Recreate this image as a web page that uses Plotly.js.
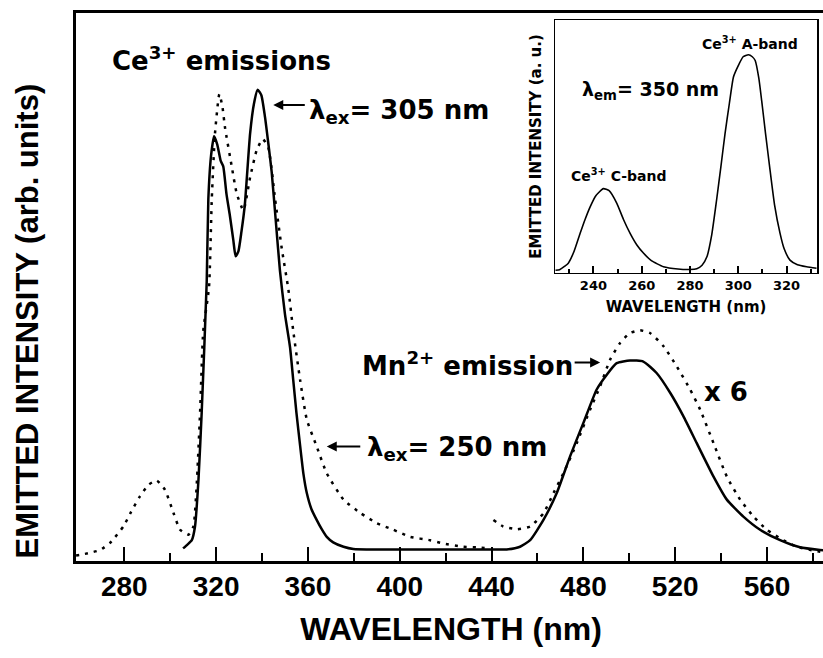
<!DOCTYPE html>
<html><head><meta charset="utf-8">
<script src="https://cdn.plot.ly/plotly-3.0.1.min.js"></script>
<style>html,body{margin:0;padding:0;overflow:hidden;background:#fff}#chart{width:830px;height:658px}</style>
</head><body><div id="chart"></div>
<script>
// Main emission spectrum, excitation at 305 nm (solid); 440 nm onward shown x6
const ex305_nm = [305.6,307.5,309.4,310.8,312.3,313.7,315.9,316.6,317.8,319.1,320.5,322,323.1,324.5,326,327.5,328.5,329.7,331,332.5,334.8,336.5,338.1,339.7,341.3,342.8,344.2,346,347.8,350,352.2,353.6,355,356.6,358,359.5,361.5,363.8,366,368.2,371,375.5,379.8,390,400,420,440,446.6,452.4,456.8,462.6,468.4,474.2,480,485.8,490.2,494.5,500.3,506.1,511.9,517.8,523.6,529.4,536.7,542.5,549.7,557,565.7,574.4,583.1,585.7];
const ex305_int = [2.3,3,3.8,6.3,14.8,27,51,66,74,77.5,76,73,72,67,63,58.5,55.6,56.5,60,65,78,83.5,86,85,81,76,71,62,53,45,39,33,27,21,16,12.4,9.5,7.5,5.8,4.4,3.4,2.6,2.2,2.1,2.1,2.1,2.1,2.1,2.6,3.8,7.5,12.4,19.1,25.2,31.3,34,36.1,36.6,36.4,34.3,30.7,26.4,21.5,15.4,11.2,8.1,5.7,3.8,2.5,2,1.9];

// Main emission spectrum, excitation at 250 nm (dotted); gap where the x6 part begins
const ex250_nm = [259,260.7,265,269.4,273.8,279.6,283,286.8,290.5,294.1,297.7,301.4,304.3,307.9,310.1,311.5,313,314.4,316.9,318.1,319.5,321.4,322.7,323.9,326.8,329,331.9,334.8,337.7,340.3,342.7,345.7,348.6,351.5,353.6,356.6,359.5,363.8,368.2,375.5,382.7,390,397.2,404.5,413.2,419,427.7,433.5,439.3,440,440.8,445.1,451,456.8,462.6,467,471.3,477.1,482.9,487.3,491.6,496,500.3,504.7,509,514.9,520.7,526.5,530.9,536.7,542.5,548.3,554.1,559.9,567.1,573,580.2,583.1,585.7];
const ex250_int = [1,1.1,1.5,2,3.3,6.3,9,11.8,13.9,14.7,13,8.8,5.7,4.8,6.3,13.6,27,42,50,66,78,85.2,83,79,72,67,64,70,75,77,75.5,66,57,49.5,42,33,25.8,20.9,16,11.2,8.8,6.9,5.7,4.4,3.8,3.2,2.6,2.5,2.3,null,7.5,6.3,5.8,6.3,8.7,12.4,16,21.5,27.6,31.9,36.7,39.8,41.6,42.1,41.6,39.2,35.5,31.3,27.6,21.5,15.4,11.2,8.1,5.7,3.8,2.6,1.9,1.7,1.6];

// Inset: excitation spectrum monitored at 350 nm
const inset_nm = [224.3,226,228,229.6,232,234.5,236.5,238.6,241,244.1,246.5,249.7,252.5,255.2,258,260.7,264,269,275,280,282.8,285,287,289,291,292.8,294.5,296.3,298,300,302,304.2,305.8,307,308.5,309.7,311.3,313,315,317.3,319,321.4,324.5,328.3,332.4];
const inset_int = [1,1.2,2.5,3.8,8.5,15.6,21,26,30.5,33.3,32.5,27.5,21,15.6,11,7.8,4.8,2.4,1.5,1.3,1.6,3,6.3,15,28.7,42,55,67,77.5,82,85.5,86.3,85.5,84,77,68,55,41.8,27,15.6,9.5,5,3.2,2.4,1.8];

// Tick positions and labels
const mainMajorTicks = [280,320,360,400,440,480,520,560];
const mainMinorTicks = [300,340,380,420,460,500,540,580];
const insetMajorTicks = [240,260,280,300,320];
const insetMinorTicks = [230,250,270,290,310,330];

const axisBold = {family:"'Liberation Sans',Arial,sans-serif", weight:'bold', color:'#000'};
const annFont = {family:"'DejaVu Sans',sans-serif", size:26, weight:'bold', color:'#000'};
const insetFont = {family:"'DejaVu Sans',sans-serif", size:13, weight:'bold', color:'#000'};

const traces = [
  {x: ex305_nm, y: ex305_int, type:'scatter', mode:'lines', line:{color:'#000', width:2.5, shape:'spline', smoothing:0.5}, hoverinfo:'skip'},
  {x: ex250_nm, y: ex250_int, type:'scatter', mode:'lines', connectgaps:false, line:{color:'#000', width:2.5, dash:'3px,6px', shape:'spline', smoothing:0.5}, hoverinfo:'skip'},
  {x: inset_nm, y: inset_int, type:'scatter', mode:'lines', xaxis:'x2', yaxis:'y2', line:{color:'#000', width:1.6, shape:'spline', smoothing:0.5}, hoverinfo:'skip'}
];

const layout = {
  width:830, height:658,
  margin:{l:76, r:4, t:13, b:97},
  paper_bgcolor:'#fff', plot_bgcolor:'rgba(0,0,0,0)',
  showlegend:false,
  xaxis:{
    range:[258.95,585.7], showgrid:false, zeroline:false,
    showline:true, mirror:true, linecolor:'#000', linewidth:3,
    tickmode:'array', tickvals:mainMajorTicks, ticktext:mainMajorTicks.map(String),
    ticks:'inside', ticklen:14, tickwidth:2, tickcolor:'#000',
    minor:{tickmode:'array', tickvals:mainMinorTicks, ticks:'inside', ticklen:8, tickwidth:2, tickcolor:'#000'},
    tickfont:Object.assign({size:28}, axisBold), ticklabelstandoff:-2,
    title:{text:'WAVELENGTH (nm)', font:Object.assign({size:32}, axisBold), standoff:18}
  },
  yaxis:{
    range:[0,100], showgrid:false, zeroline:false, showticklabels:false, ticks:'',
    showline:true, mirror:true, linecolor:'#000', linewidth:3
  },
  xaxis2:{
    domain:[0.6387,0.988], anchor:'y2', range:[224.1,332.6],
    showgrid:false, zeroline:false, showline:true, mirror:true, linecolor:'#000', linewidth:1.5,
    tickmode:'array', tickvals:insetMajorTicks, ticktext:insetMajorTicks.map(String),
    ticks:'inside', ticklen:7, tickwidth:2, tickcolor:'#000',
    minor:{tickmode:'array', tickvals:insetMinorTicks, ticks:'inside', ticklen:4, tickwidth:2, tickcolor:'#000'},
    tickfont:insetFont,
    title:{text:'WAVELENGTH (nm)', font:Object.assign({}, insetFont, {size:15}), standoff:9}
  },
  yaxis2:{
    domain:[0.526,0.987], anchor:'x2', range:[0,100],
    showgrid:false, zeroline:false, showticklabels:false, ticks:'',
    showline:true, mirror:true, linecolor:'#000', linewidth:1.5,
    title:{text:'EMITTED INTENSITY (a. u.)', font:Object.assign({}, insetFont, {size:15}), standoff:8}
  },
  annotations:[
    {xref:'paper', yref:'paper', x:-0.0653, y:0.437, xanchor:'center', yanchor:'middle', textangle:-90, showarrow:false,
     text:'EMITTED INTENSITY (arb. units)', font:Object.assign({size:31}, axisBold)},
    {xref:'x', yref:'y', x:273.8, y:91.6, xanchor:'left', yanchor:'middle', showarrow:false, text:'Ce<sup>3+</sup> emissions', font:annFont},
    {xref:'x', yref:'y', x:359.6, y:82, xanchor:'left', yanchor:'middle', showarrow:false, text:'λ<sub>ex</sub>= 305 nm', font:annFont},
    {xref:'x', yref:'y', x:344.9, y:83.2, ax:33, ay:0, showarrow:true, text:'', arrowhead:2, arrowsize:1, arrowwidth:2, arrowcolor:'#000'},
    {xref:'x', yref:'y', x:382.7, y:36, xanchor:'left', yanchor:'middle', showarrow:false, text:'Mn<sup>2+</sup> emission', font:annFont},
    {xref:'x', yref:'y', x:487.3, y:36.2, ax:-27, ay:0, showarrow:true, text:'', arrowhead:2, arrowsize:1, arrowwidth:2, arrowcolor:'#000'},
    {xref:'x', yref:'y', x:384.9, y:20.5, xanchor:'left', yanchor:'middle', showarrow:false, text:'λ<sub>ex</sub>= 250 nm', font:annFont},
    {xref:'x', yref:'y', x:368.2, y:20.9, ax:35, ay:0, showarrow:true, text:'', arrowhead:2, arrowsize:1, arrowwidth:2, arrowcolor:'#000'},
    {xref:'x', yref:'y', x:531.7, y:30.9, xanchor:'left', yanchor:'middle', showarrow:false, text:'x 6', font:annFont},
    {xref:'x2', yref:'y2', x:284.2, y:90.9, xanchor:'left', yanchor:'middle', showarrow:false, text:'Ce<sup>3+</sup> A-band', font:Object.assign({}, insetFont, {size:14})},
    {xref:'x2', yref:'y2', x:229.9, y:38.7, xanchor:'left', yanchor:'middle', showarrow:false, text:'Ce<sup>3+</sup> C-band', font:Object.assign({}, insetFont, {size:14})},
    {xref:'x2', yref:'y2', x:234.5, y:72, xanchor:'left', yanchor:'middle', showarrow:false, text:'λ<sub>em</sub>= 350 nm', font:Object.assign({}, insetFont, {size:19})}
  ]
};

Plotly.newPlot('chart', traces, layout, {staticPlot:true, displayModeBar:false});
</script></body></html>
